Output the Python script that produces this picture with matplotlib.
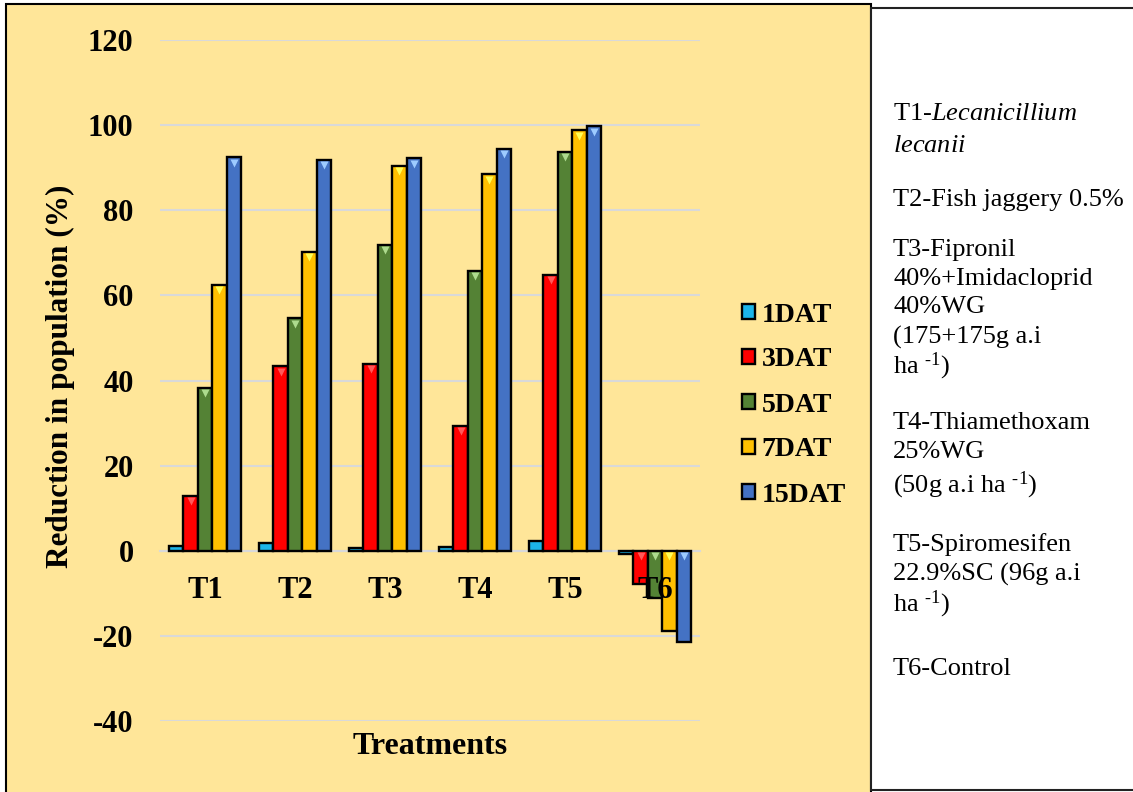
import matplotlib.pyplot as plt
import numpy as np
from matplotlib.patches import Rectangle
from matplotlib.colors import to_rgb

treatments = ['T1', 'T2', 'T3', 'T4', 'T5', 'T6']
dat_1 = [1.1, 1.9, 0.6, 0.8, 2.3, -0.8]
dat_3 = [12.9, 43.3, 43.9, 29.4, 64.9, -7.9]
dat_5 = [38.3, 54.6, 71.9, 65.8, 93.8, -11.2]
dat_7 = [62.5, 70.3, 90.5, 88.5, 98.8, -18.9]
dat_15 = [92.5, 91.9, 92.2, 94.5, 99.8, -21.4]
series_names = ['1DAT', '3DAT', '5DAT', '7DAT', '15DAT']

notes = [
    (114, r'T1-$\mathit{Lecanicillium}$'),
    (146, r'$\mathit{lecanii}$'),
    (200, 'T2-Fish jaggery 0.5%'),
    (250, 'T3-Fipronil'),
    (279, '40%+Imidacloprid'),
    (307, '40%WG'),
    (337, '(175+175g a.i'),
    (366, r'ha $^{\text{-1}}$)'),
    (423, 'T4-Thiamethoxam'),
    (452, '25%WG'),
    (485, r'(50g a.i ha $^{\text{-1}}$)'),
    (545, 'T5-Spiromesifen'),
    (574, '22.9%SC (96g a.i'),
    (604, r'ha $^{\text{-1}}$)'),
    (669, 'T6-Control'),
]

colors = ['#1CB5EA', '#FF0000', '#548235', '#FFC000', '#4472C4']
panel_bg = '#FFE699'
grid_col = '#D9D9D9'

plt.rcParams['font.family'] = ['Liberation Serif', 'DejaVu Serif']
plt.rcParams['mathtext.fontset'] = 'custom'
plt.rcParams['mathtext.rm'] = 'Liberation Serif'
plt.rcParams['mathtext.it'] = 'Liberation Serif:italic'
plt.rcParams['axes.unicode_minus'] = False

W, H = 1133, 792
fig = plt.figure(figsize=(W / 100, H / 100), dpi=100)
fig.patch.set_facecolor('white')

# chart panel on the left, notes panel on the right
fig.patches.append(Rectangle((6 / W, -0.01), 865 / W, 1 - 4 / H + 0.01,
                             transform=fig.transFigure, facecolor=panel_bg,
                             edgecolor='black', linewidth=1.5, zorder=-5))
fig.patches.append(Rectangle((871 / W, 1 - 790 / H), 270 / W, 782 / H,
                             transform=fig.transFigure, facecolor='white',
                             edgecolor='#222222', linewidth=1.5, zorder=-4))

ax = fig.add_axes([160 / W, 71 / H, 540 / W, 681 / H])
ax.set_facecolor('none')

x = np.arange(len(treatments))
width = 0.16
all_series = [dat_1, dat_3, dat_5, dat_7, dat_15]
handles = []
for i, (vals, col) in enumerate(zip(all_series, colors)):
    pos = x + (i - 2) * width
    b = ax.bar(pos, vals, width, color=col, edgecolor='black', linewidth=1.7,
               label=series_names[i], zorder=3)
    handles.append(b)
    # small bevel highlight at the top edge of each bar
    light = tuple(min(1, c + 0.35) for c in to_rgb(col))
    tops = np.array([max(v, 0) for v in vals])
    big = np.array([abs(v) > 3 for v in vals])
    ax.plot(pos[big], tops[big] - 1.3, 'v', ms=6, color=light,
            mec='none', zorder=4)

ax.set_xlim(-0.5, 5.5)
ax.set_ylim(-40, 120)
ax.set_yticks(range(-40, 121, 20))
ax.yaxis.grid(True, color=grid_col, linewidth=1.5, zorder=0)
ax.set_axisbelow(True)
for s in ['top', 'right', 'left']:
    ax.spines[s].set_visible(False)
ax.spines['bottom'].set_position(('data', 0))
ax.spines['bottom'].set_color(grid_col)
ax.spines['bottom'].set_linewidth(1.5)
ax.spines['bottom'].set_zorder(1)
ax.set_xticks(x)
ax.set_xticklabels([])
ax.tick_params(axis='x', length=0)
ax.tick_params(axis='y', length=0, pad=19, labelsize=22)
for lab in ax.get_yticklabels():
    lab.set_fontweight('bold')

# category names sit just under the zero line, above the bars
for xi, name in zip(x, treatments):
    ax.annotate(name, (xi, 0), xytext=(0, -28.5), textcoords='offset points',
                ha='center', va='center', fontsize=22, fontweight='bold',
                zorder=6)

fig.text(60 / W, 1 - 376 / H, 'Reduction in population (%)', rotation=90,
         fontsize=22.5, fontweight='bold', ha='center', va='center')
fig.text(430 / W, 1 - 746 / H, 'Treatments', fontsize=23,
         fontweight='bold', ha='center', va='center')

leg = fig.legend(handles=handles, loc='center left',
                 bbox_to_anchor=(717 / W, 1 - 405 / H), frameon=False,
                 prop={'weight': 'bold', 'size': 20}, labelspacing=0.72,
                 handlelength=0.45, handleheight=0.45, handletextpad=0.25)

# treatment descriptions
for yy, line in notes:
    fig.text(893 / W, 1 - yy / H, line, fontsize=19, ha='left', va='center')

fig.savefig('out.png', dpi=100, facecolor=fig.get_facecolor())
